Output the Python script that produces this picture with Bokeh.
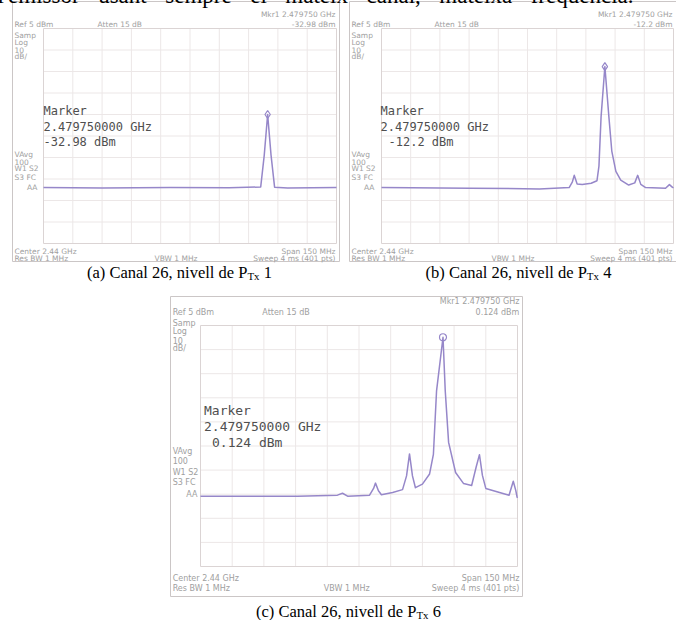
from bokeh.plotting import figure
from bokeh.models import Range1d
from bokeh.core.properties import value
from bokeh.embed import file_html
from bokeh.resources import INLINE

# ---------------- data ----------------
CENTER_MHZ = 2440.0
SPAN_MHZ = 150.0
REF_DBM = 5.0
DB_PER_DIV = 10.0
N_DIV = 10

FREQ_A = [2365.0, 2395.0, 2430.0, 2460.0, 2476.2, 2478.0, 2479.75, 2481.5, 2483.3, 2490.0, 2515.0]
DBM_A = [-68.9, -69.2, -69.0, -69.1, -68.7, -54.0, -35.0, -54.0, -68.8, -69.2, -69.0]

FREQ_B = [2365.0, 2410.4, 2446.1, 2461.4, 2463.0, 2464.0, 2465.5, 2468.1, 2472.7, 2475.7, 2476.7,
          2477.8, 2479.75, 2481.8, 2483.3, 2485.4, 2487.9, 2492.0, 2495.1, 2496.6, 2498.2,
          2500.7, 2510.9, 2512.9, 2514.5, 2515.0]
DBM_B = [-69.0, -69.3, -69.6, -69.0, -66.5, -63.3, -67.3, -67.6, -67.0, -65.8, -59.0,
         -36.0, -12.7, -36.0, -52.0, -61.5, -65.5, -67.8, -66.8, -63.3, -67.5,
         -69.0, -69.3, -67.6, -68.9, -69.1]

FREQ_C = [2365.0, 2410.9, 2429.8, 2432.2, 2434.6, 2445.0, 2446.9, 2447.8, 2449.2, 2450.6,
          2455.9, 2460.6, 2462.5, 2463.9, 2465.3, 2466.7, 2470.0, 2473.4, 2475.2, 2476.7,
          2479.75, 2480.8, 2482.4, 2485.7, 2489.5, 2493.3, 2495.5, 2497.0, 2498.4, 2500.0,
          2506.5, 2511.0, 2513.0, 2514.2, 2514.8, 2515.0]
DBM_C = [-65.8, -65.8, -65.4, -64.6, -65.8, -65.4, -62.6, -60.4, -63.6, -65.2,
         -64.3, -63.1, -57.4, -48.3, -57.4, -62.3, -60.8, -56.6, -48.5, -22.1,
         0.124, -22.0, -43.5, -56.0, -60.6, -61.4, -53.5, -48.6, -57.2, -62.6,
         -64.3, -65.4, -59.6, -63.5, -66.2, -66.5]

MARKER_FREQ_MHZ = 2479.75
MARKER_TEXT = ["-32.98 dBm", "-12.2 dBm", "0.124 dBm"]
PTX_LEVELS = ["1", "4", "6"]
PANEL_TAGS = ["(a)", "(b)", "(c)"]
CHANNEL = "26"

TOP_WORDS = ["l'emissor", "usant", "sempre", "el", "mateix", "canal,", "mateixa", "freqüència."]

# ---------------- layout / style ----------------
W, H = 684, 628
XSHIFT = 5
LINE = "#9687c9"
GRID = "#ece7e7"
FRAME = "#dbd4d4"
BORDER = "#cbc6c6"
SMALL = "#a0a0a0"
MARK_TXT = "#4f4f4f"

# vertical offsets of the panel texts, relative to the panel's top border
DY_AB = dict(mkr=13, head=23, samp=[34, 41, 48, 55], mark=[109, 125, 140],
             vavg=[153, 160, 167, 176, 186], bot=[250, 257])
DY_C = dict(mkr=5, head=16, samp=[27, 35, 44, 52], mark=[114, 130, 146],
            vavg=[155, 164, 176, 186, 198], bot=[282, 292])

PANELS = [
    dict(ol=15, orr=342, ot=9, ob=269, L=46, R=339, T=36, B=251, sx=1.0, dy=DY_AB, ind=0, fs=7.5, mfs=12),
    dict(ol=352, orr=679, ot=9, ob=269, L=384, R=676, T=36, B=251, sx=1.0, dy=DY_AB, ind=8, fs=7.5, mfs=12),
    dict(ol=173, orr=525, ot=304, ob=604, L=203, R=520, T=333, B=574, sx=1.08, dy=DY_C, ind=8, fs=8, mfs=13),
]
SPECTRA = [(FREQ_A, DBM_A), (FREQ_B, DBM_B), (FREQ_C, DBM_C)]
PEAKS = [max(DBM_A), max(DBM_B), max(DBM_C)]
CAPTION_POS = [(182, 280), (521, 280), (351, 619)]

p = figure(width=W, height=H, x_range=Range1d(-XSHIFT, W - XSHIFT), y_range=Range1d(H, 0),
           output_backend="svg", toolbar_location=None, min_border=0,
           x_axis_location=None, y_axis_location=None, margin=(-8, -8, -8, -8))
p.grid.visible = False
p.outline_line_color = None
p.background_fill_color = "white"
p.border_fill_color = "white"

f0 = CENTER_MHZ - SPAN_MHZ / 2
f1 = CENTER_MHZ + SPAN_MHZ / 2
bottom_db = REF_DBM - DB_PER_DIV * N_DIV

xr, yr = {}, {}
for i, g in enumerate(PANELS):
    kx = (f1 - f0) / (g["R"] - g["L"])
    xr[f"p{i}"] = Range1d(f0 - (g["L"] + XSHIFT) * kx, f0 + (W - XSHIFT - g["L"]) * kx)
    ky = (REF_DBM - bottom_db) / (g["B"] - g["T"])
    yr[f"p{i}"] = Range1d(REF_DBM - (H - g["T"]) * ky, REF_DBM + g["T"] * ky)
p.extra_x_ranges = xr
p.extra_y_ranges = yr


def small_texts(g, mk):
    d = g["dy"]
    items = [
        (2, d["head"], "Ref 5 dBm", "left"), (85, d["head"], "Atten 15 dB", "left"),
        (323, d["mkr"], "Mkr1 2.479750 GHz", "right"), (323, d["head"], mk, "right"),
        (2, d["samp"][0], "Samp", "left"), (2, d["samp"][1], "Log", "left"),
        (2, d["samp"][2], "10", "left"), (2, d["samp"][3], "dB/", "left"),
        (2, d["vavg"][0], "VAvg", "left"), (2, d["vavg"][1], "100", "left"),
        (2, d["vavg"][2], "W1 S2", "left"), (2, d["vavg"][3], "S3 FC", "left"),
        (25, d["vavg"][4], "AA", "right"),
        (2, d["bot"][0], "Center 2.44 GHz", "left"), (323, d["bot"][0], "Span 150 MHz", "right"),
        (2, d["bot"][1], "Res BW 1 MHz", "left"), (142, d["bot"][1], "VBW 1 MHz", "left"),
        (323, d["bot"][1], "Sweep 4 ms (401 pts)", "right"),
    ]
    out = {"left": ([], [], []), "right": ([], [], [])}
    for dx, dy, t, al in items:
        xs, ys, ts = out[al]
        xs.append(g["ol"] + dx * g["sx"])
        ys.append(g["ot"] + dy)
        ts.append(t)
    return out


for i, g in enumerate(PANELS):
    rn = f"p{i}"
    p.quad(left=[g["ol"]], right=[g["orr"]], top=[g["ot"]], bottom=[g["ob"]],
           fill_color="white", line_color=BORDER, line_width=1)
    vx = [f0 + k * SPAN_MHZ / N_DIV for k in range(N_DIV + 1)]
    hy = [REF_DBM - k * DB_PER_DIV for k in range(N_DIV + 1)]
    p.segment(x0=vx[1:-1], x1=vx[1:-1], y0=[REF_DBM] * (N_DIV - 1), y1=[bottom_db] * (N_DIV - 1),
              x_range_name=rn, y_range_name=rn, line_color=GRID, line_width=1)
    p.segment(x0=[f0] * (N_DIV - 1), x1=[f1] * (N_DIV - 1), y0=hy[1:-1], y1=hy[1:-1],
              x_range_name=rn, y_range_name=rn, line_color=GRID, line_width=1)
    p.segment(x0=[f0, f1, f0, f0], x1=[f0, f1, f1, f1], y0=[REF_DBM, REF_DBM, REF_DBM, bottom_db],
              y1=[bottom_db, bottom_db, REF_DBM, bottom_db],
              x_range_name=rn, y_range_name=rn, line_color=FRAME, line_width=1)
    fx, fy = SPECTRA[i]
    p.line(fx, fy, x_range_name=rn, y_range_name=rn, line_color=LINE, line_width=1.5,
           line_join="round")
    p.scatter([MARKER_FREQ_MHZ], [PEAKS[i]], marker="diamond" if i < 2 else "circle",
              size=8 if i < 2 else 7, fill_color=None, line_color=LINE, line_width=1.2,
              x_range_name=rn, y_range_name=rn)
    st = small_texts(g, MARKER_TEXT[i])
    for al in ("left", "right"):
        xs, ys, ts = st[al]
        p.text(x=xs, y=ys, text=ts, text_align=al, text_baseline="middle",
               text_font=value("DejaVu Sans"), text_font_size=f"{g['fs']}px", text_color=SMALL)
    mx = g["ol"] + 31 * g["sx"]
    md = g["dy"]["mark"]
    p.text(x=[mx, mx, mx + g["ind"]], y=[g["ot"] + md[0], g["ot"] + md[1], g["ot"] + md[2]],
           text=["Marker", "2.479750000 GHz", MARKER_TEXT[i]],
           text_align="left", text_baseline="middle", text_font=value("DejaVu Sans Mono"),
           text_font_size=f"{g['mfs']}px", text_color=MARK_TXT)

# ---------------- captions (Times metrics for centring) ----------------
TW = {'(': 333, ')': 333, 'a': 444, 'b': 500, 'c': 444, ' ': 250, 'C': 667, 'n': 500, 'l': 278,
      '2': 500, '6': 500, ',': 250, 'i': 278, 'v': 500, 'e': 444, 'd': 500, 'P': 556, 'T': 611,
      'x': 500, '1': 500, '4': 500, 'u': 500, 's': 389, 'm': 778, 'p': 500, 'r': 333, 't': 278,
      'f': 333, 'q': 500, 'ü': 500, 'è': 444, '.': 250, "'": 180}


def tw(s, size):
    return sum(TW.get(ch, 500) for ch in s) * size / 1000.0


CAP = 16.5
SUB = 11
SERIF = value("Liberation Serif")
for i, (cx, cy) in enumerate(CAPTION_POS):
    s1 = f"{PANEL_TAGS[i]} Canal {CHANNEL}, nivell de P"
    s2 = "Tx"
    s3 = PTX_LEVELS[i]
    w1, w2, wsp, w3 = tw(s1, CAP), tw(s2, SUB), tw(" ", CAP), tw(s3, CAP)
    x0 = cx - (w1 + w2 + wsp + w3) / 2
    p.text(x=[x0], y=[cy], text=[s1], text_font=SERIF, text_font_size=f"{CAP}px",
           text_baseline="alphabetic", text_align="left", text_color="black")
    p.text(x=[x0 + w1], y=[cy + 3], text=[s2], text_font=SERIF, text_font_size=f"{SUB}px",
           text_baseline="alphabetic", text_align="left", text_color="black")
    p.text(x=[x0 + w1 + w2 + wsp], y=[cy], text=[s3], text_font=SERIF, text_font_size=f"{CAP}px",
           text_baseline="alphabetic", text_align="left", text_color="black")

# ---------------- cropped body-text line at the very top ----------------
TOP = 23
TOP_LEFT, TOP_RIGHT = 0, 636
nat = sum(tw(w, TOP) for w in TOP_WORDS)
gap = (TOP_RIGHT - TOP_LEFT - nat) / (len(TOP_WORDS) - 1)
xs, x = [], TOP_LEFT
for w in TOP_WORDS:
    xs.append(x)
    x += tw(w, TOP) + gap
p.text(x=xs, y=[3] * len(xs), text=TOP_WORDS, text_font=SERIF,
       text_font_size=f"{TOP}px", text_baseline="alphabetic", text_align="left", text_color="black")

open("out.html", "w").write(file_html(p, INLINE))
